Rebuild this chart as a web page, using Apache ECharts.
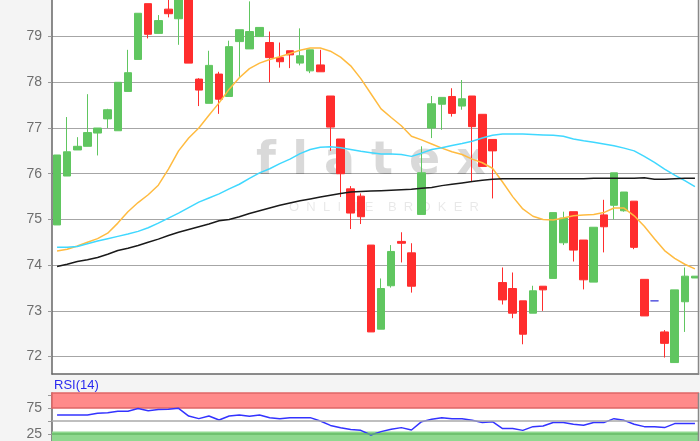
<!DOCTYPE html>
<html><head><meta charset="utf-8">
<script src="https://cdn.jsdelivr.net/npm/echarts@6/dist/echarts.min.js"></script>
<style>html,body{margin:0;padding:0;background:#f4f4f4}#c{width:700px;height:441px}</style>
</head><body><div id="c"></div>
<script>
// candle data: [open, close, low, high]
const candles = [
  [74.88,76.41,74.88,76.41],[75.95,76.48,75.95,77.24],[76.52,76.60,76.52,76.80],[76.60,76.90,76.60,77.74],
  [76.89,77.00,76.40,77.00],[77.20,77.40,77.00,77.42],[76.94,78.00,76.94,78.00],[77.80,78.21,77.80,78.71],
  [78.50,79.51,78.50,79.51],[79.72,79.05,78.96,79.72],[79.07,79.35,79.07,79.47],[79.60,79.50,79.42,79.85],
  [79.39,79.95,78.82,79.95],[79.95,78.42,78.42,79.95],[78.07,77.83,77.48,78.09],[77.54,78.37,77.54,78.69],
  [78.18,77.63,77.31,78.23],[77.69,78.78,77.69,78.91],[78.89,79.15,78.12,79.15],[78.73,79.11,78.73,79.77],
  [79.00,79.20,79.00,79.20],[78.87,78.54,78.00,79.11],[78.54,78.45,78.32,78.87],[78.69,78.60,78.31,78.69],
  [78.42,78.58,78.37,79.18],[78.25,78.71,78.20,78.71],[78.38,78.23,78.23,78.71],[77.70,77.02,76.50,77.70],
  [76.76,76.00,75.49,76.76],[75.67,75.14,74.79,75.73],[75.51,75.06,74.90,75.57],[74.44,72.54,72.54,74.44],
  [72.60,73.49,72.60,73.71],[73.55,74.30,73.51,74.44],[74.52,74.48,74.06,74.72],[74.27,73.54,73.40,74.48],
  [75.11,76.02,75.11,76.60],[77.00,77.53,76.78,77.70],[77.52,77.67,76.96,77.67],[77.69,77.32,77.25,77.87],
  [77.48,77.64,77.40,78.05],[77.70,77.03,75.83,77.70],[77.30,76.16,76.16,77.30],[76.75,76.50,75.46,76.75],
  [73.62,73.24,73.14,73.95],[73.49,72.95,72.84,73.84],[73.22,72.49,72.27,73.22],[72.95,73.44,72.95,73.55],
  [73.54,73.46,73.00,73.54],[73.71,75.15,73.71,75.15],[74.49,75.03,74.44,75.17],[75.17,74.33,74.08,75.17],
  [74.55,73.68,73.47,74.55],[73.63,74.83,73.63,74.83],[75.10,74.84,74.28,75.43],[75.31,76.02,75.00,76.02],
  [75.19,75.60,75.17,75.60],[75.40,74.39,74.35,75.40],[73.69,72.89,72.89,73.69],[73.22,73.22,73.22,73.22],
  [72.54,72.29,71.98,72.58],[71.87,73.46,71.87,73.46],[73.20,73.76,72.54,73.95],[73.72,73.76,73.72,73.76]
];
const maFast = [74.31,74.35,74.42,74.50,74.58,74.70,74.92,75.17,75.37,75.54,75.75,76.10,76.50,76.78,77.00,77.28,
  77.55,77.85,78.10,78.30,78.42,78.50,78.56,78.63,78.70,78.75,78.75,78.68,78.55,78.36,78.08,77.75,
  77.42,77.23,77.05,76.82,76.74,76.65,76.56,76.48,76.42,76.32,76.24,76.12,75.82,75.50,75.23,75.07,
  75.00,74.99,75.03,75.08,75.10,75.11,75.15,75.25,75.25,75.08,74.85,74.58,74.32,74.15,74.02,73.92];
const maMid = [74.39,74.39,74.41,74.47,74.53,74.58,74.63,74.68,74.74,74.82,74.92,75.03,75.14,75.26,75.38,75.47,
  75.56,75.67,75.77,75.90,76.02,76.11,76.22,76.32,76.44,76.53,76.58,76.59,76.57,76.53,76.49,76.46,
  76.43,76.43,76.42,76.38,76.45,76.53,76.57,76.62,76.66,76.71,76.78,76.84,76.87,76.87,76.87,76.86,
  76.85,76.84,76.82,76.76,76.72,76.69,76.65,76.61,76.56,76.50,76.38,76.25,76.10,75.97,75.85,75.72];
const maSlow = [73.97,74.02,74.08,74.12,74.17,74.24,74.32,74.37,74.43,74.50,74.57,74.65,74.72,74.78,74.84,74.90,
  74.97,75.00,75.06,75.13,75.19,75.25,75.31,75.36,75.41,75.45,75.49,75.53,75.57,75.60,75.61,75.62,
  75.63,75.64,75.65,75.66,75.68,75.70,75.74,75.77,75.80,75.83,75.86,75.88,75.89,75.89,75.89,75.89,
  75.89,75.89,75.89,75.89,75.89,75.90,75.90,75.90,75.90,75.90,75.91,75.88,75.88,75.89,75.90,75.90];
const rsi14 = [61.5,61.5,61.5,61.5,65,66,69,69,74,70,72,72.5,74.4,59.6,54.6,59.6,
  52,59.6,61.5,59,61.5,56.5,54.6,56.5,56.5,56.5,50,41.5,37,33.5,32,23,
  29.6,34,37.3,32.7,48.8,53.3,56.5,54.6,54.6,51.3,47,48.8,35.4,35.4,32,39.2,
  40.4,47,47,43.7,41.7,47,47,54.6,51.3,43.7,39.2,39.2,37.3,45,45,45];
const priceTicks = [72,73,74,75,76,77,78,79];
const rsiLabels = [25,75];
const rsiTicks = [25,50,75,100];
const categories = candles.map((d, i) => String(i + 1));

const chart = echarts.init(document.getElementById('c'), null, {renderer: 'canvas'});
const labelFont = {color: '#6e6e6e', fontSize: 14, fontFamily: 'Liberation Sans, Arial, sans-serif'};
chart.setOption({
  backgroundColor: '#f4f4f4',
  animation: false,
  grid: [
    {left: 52, top: 0, width: 649, height: 374, show: true, backgroundColor: '#ffffff', borderWidth: 0},
    {left: 52, top: 393, width: 649, height: 48, show: true, backgroundColor: '#ffffff', borderWidth: 0}
  ],
  xAxis: [
    {type: 'category', gridIndex: 0, data: categories, boundaryGap: true,
     axisLine: {lineStyle: {color: '#666', width: 1.5}}, axisTick: {show: false}, axisLabel: {show: false}, splitLine: {show: false}},
    {type: 'category', gridIndex: 1, data: categories, boundaryGap: true,
     axisLine: {show: false}, axisTick: {show: false}, axisLabel: {show: false}, splitLine: {show: false}}
  ],
  yAxis: [
    {type: 'value', gridIndex: 0, min: 71.62, max: 79.80, splitNumber: 8, scale: true,
     axisLine: {show: true, lineStyle: {color: '#666', width: 1.5}},
     axisTick: {show: true, length: 4, lineStyle: {color: '#999'}},
     axisLabel: Object.assign({showMinLabel: false, showMaxLabel: false, margin: 10,
       formatter: v => priceTicks.indexOf(Math.round(v * 1000) / 1000) >= 0 ? String(v) : ''}, labelFont),
     splitLine: {show: true, showMinLine: false, showMaxLine: false, lineStyle: {color: '#a6a6a6', width: 1}}},
    {type: 'value', gridIndex: 1, min: 11.7, max: 104,
     axisLine: {show: true, lineStyle: {color: '#666', width: 1.5}},
     axisTick: {show: true, length: 4, customValues: rsiTicks, lineStyle: {color: '#999'}},
     axisLabel: Object.assign({margin: 10, customValues: rsiLabels}, labelFont),
     splitLine: {show: false}}
  ],
  graphic: [
    {type: 'text', z: 1, silent: true, style: {x: 371, y: 162, text: 'f l a t e x', textAlign: 'center', textVerticalAlign: 'middle',
      fill: 'rgba(0,0,0,0.15)', font: 'bold 46px DejaVu Sans'}},
    {type: 'text', z: 1, silent: true, style: {x: 384, y: 207, text: 'O  N  L  I  N  E    B  R  O  K  E  R', textAlign: 'center', textVerticalAlign: 'middle',
      fill: 'rgba(0,0,0,0.09)', font: '13px Liberation Sans'}},
    {type: 'text', z: 5, silent: true, style: {x: 54, y: 385, text: 'RSI(14)', textAlign: 'left', textVerticalAlign: 'middle',
      fill: '#2a2af0', font: '13px Liberation Sans'}},
    {type: 'rect', z: 9, silent: true, shape: {x: 699.2, y: 0, width: 6, height: 441}, style: {fill: '#f4f4f4'}},
    {type: 'line', z: 10, silent: true, shape: {x1: 698.5, y1: 0, x2: 698.5, y2: 374.5}, style: {stroke: '#888', lineWidth: 1.5}},
    {type: 'line', z: 10, silent: true, shape: {x1: 698.5, y1: 393, x2: 698.5, y2: 441}, style: {stroke: '#888', lineWidth: 1.5}}
  ],
  series: [
    {type: 'candlestick', name: 'Kurs', xAxisIndex: 0, yAxisIndex: 0, data: candles, barWidth: 8, clip: true, z: 2,
     itemStyle: {color: '#60c660', color0: '#ff2d2d', borderColor: '#60c660', borderColor0: '#ff2d2d', borderColorDoji: '#5050dd', borderWidth: 1}},
    {type: 'line', name: 'MA fast', xAxisIndex: 0, yAxisIndex: 0, data: maFast, symbol: 'none', z: 3,
     lineStyle: {color: '#ffbb40', width: 1.5}},
    {type: 'line', name: 'MA mid', xAxisIndex: 0, yAxisIndex: 0, data: maMid, symbol: 'none', z: 3,
     lineStyle: {color: '#40d8ff', width: 1.5}},
    {type: 'line', name: 'MA slow', xAxisIndex: 0, yAxisIndex: 0, data: maSlow, symbol: 'none', z: 3,
     lineStyle: {color: '#1a1a1a', width: 1.5}},
    {type: 'line', name: 'RSI(14)', xAxisIndex: 1, yAxisIndex: 1, data: rsi14, symbol: 'none', z: 4,
     lineStyle: {color: '#3333ff', width: 1.5},
     markArea: {silent: true, data: [
       [{yAxis: 75, itemStyle: {color: '#ff8a8a', borderColor: '#e06565', borderWidth: 1.5}}, {yAxis: 104}],
       [{yAxis: 11.7, itemStyle: {color: '#8fd88f'}}, {yAxis: 30}]
     ]},
     markLine: {silent: true, symbol: 'none', label: {show: false}, data: [
       {yAxis: 50, lineStyle: {color: '#aaaaaa', width: 1.5, type: 'solid'}},
       {yAxis: 25, lineStyle: {color: '#66bb66', width: 1.5, type: 'solid'}}
     ]}}
  ]
});
</script></body></html>
